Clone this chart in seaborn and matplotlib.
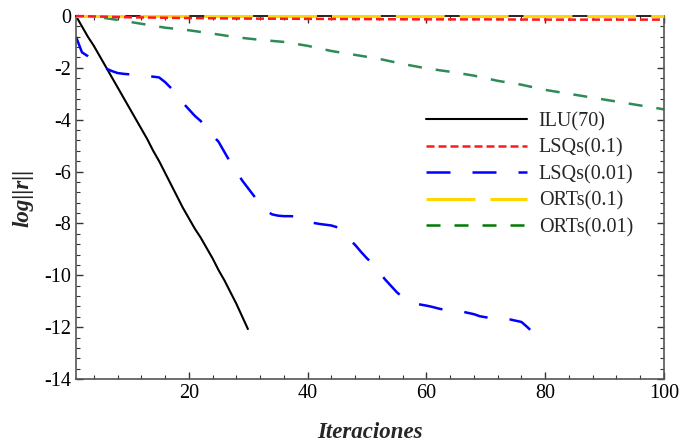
import numpy as np
import pandas as pd
import matplotlib
matplotlib.use("Agg")
import matplotlib.pyplot as plt
from matplotlib.lines import Line2D
from matplotlib.ticker import MultipleLocator
import seaborn as sns

# ---------------- data ----------------
ilu_x = list(range(1, 31))
ilu_y = [0, -0.4, -0.8, -1.15, -1.55, -1.95, -2.35, -2.75, -3.15, -3.55,
         -3.95, -4.35, -4.75, -5.2, -5.6, -6.05, -6.5, -6.95, -7.4, -7.8,
         -8.2, -8.55, -8.95, -9.35, -9.8, -10.2, -10.65, -11.1, -11.6, -12.1]

lsq01_x = [1, 10, 20, 30, 40, 50, 60, 70, 80, 90, 100]
lsq01_y = [0, -0.05, -0.08, -0.1, -0.11, -0.12, -0.13, -0.13, -0.14, -0.14, -0.14]

lsq001_x = list(range(1, 79))
lsq001_y = [-0.8, -1.4, -1.55, -1.75, -1.9, -2.02, -2.12, -2.2, -2.23, -2.25,
            -2.28, -2.3, -2.32, -2.34, -2.37, -2.55, -2.78, -3.05, -3.35, -3.6,
            -3.85, -4.05, -4.35, -4.6, -4.85, -5.25, -5.65, -6.0, -6.35, -6.65,
            -6.95, -7.25, -7.5, -7.65, -7.7, -7.72, -7.72, -7.73, -7.75, -7.85,
            -7.98, -8.02, -8.05, -8.08, -8.15, -8.35, -8.6, -8.83, -9.1, -9.35,
            -9.56, -9.85, -10.15, -10.4, -10.65, -10.85, -11.0, -11.08, -11.13, -11.17,
            -11.22, -11.28, -11.33, -11.36, -11.38, -11.4, -11.45, -11.5, -11.58, -11.62,
            -11.65, -11.66, -11.68, -11.7, -11.75, -11.8, -12.0, -12.22]

ort01_x = [1, 100]
ort01_y = [0, 0]

ort001_x = [1, 5, 8, 12, 16, 20, 24, 28, 32, 36, 40, 44, 48, 52, 56, 60,
            64, 68, 72, 76, 80, 84, 88, 92, 96, 100]
ort001_y = [0, -0.05, -0.15, -0.3, -0.45, -0.55, -0.68, -0.82, -0.92, -1.0,
            -1.15, -1.35, -1.5, -1.65, -1.85, -2.02, -2.15, -2.3, -2.5, -2.65,
            -2.85, -3.0, -3.15, -3.3, -3.45, -3.6]

labels = ["ILU(70)", "LSQs(0.1)", "LSQs(0.01)", "ORTs(0.1)", "ORTs(0.01)"]
x_ticks = [20, 40, 60, 80, 100]
y_ticks = [0, -2, -4, -6, -8, -10, -12, -14]

# ---------------- style ----------------
sns.set_style("ticks")
plt.rcParams["font.family"] = ["Liberation Serif", "DejaVu Serif"]
plt.rcParams["axes.unicode_minus"] = False

fig = plt.figure(figsize=(6.8, 4.44), dpi=100)
ax = fig.add_axes([76 / 680, 1 - 379 / 444, (664 - 76) / 680, (379 - 16) / 444])

series = [
    (ilu_x, ilu_y, "black", 1.5, None, True, 2),
    (lsq01_x, lsq01_y, "#ff1a1a", 1.8, (3.2, 1.6), False, 3.1),
    (lsq001_x, lsq001_y, "#0000ff", 1.8, (9.6, 8.8), True, 2),
    (ort01_x, ort01_y, "#ffd700", 2.2, (16, 4.9), False, 3),
    (ort001_x, ort001_y, "#2e8b57", 1.8, (5.6, 5.6), True, 2),
]

for (xs, ys, col, lw, dash, clip, z), lab in zip(series, labels):
    df = pd.DataFrame({"x": xs, "y": ys})
    sns.lineplot(data=df, x="x", y="y", ax=ax, color=col, linewidth=lw,
                 legend=False, clip_on=clip, zorder=z)
    line = ax.lines[-1]
    if dash is not None:
        line.set_dashes(dash)
    line.set_solid_capstyle("butt")
    line.set_dash_capstyle("butt")

ax.set_xlim(1, 100)
ax.set_ylim(-14, 0)
ax.set_xticks(x_ticks)
ax.set_yticks(y_ticks)
ax.set_yticklabels([str(v) for v in y_ticks])
ax.xaxis.set_minor_locator(MultipleLocator(4))
ax.yaxis.set_minor_locator(MultipleLocator(0.4))
ax.tick_params(which="both", direction="in", top=True, right=True,
               labeltop=False, labelright=False, labelsize=14.5, colors="#333333",
               labelcolor="black")
ax.tick_params(which="major", length=5, width=1)
ax.tick_params(which="minor", length=3, width=0.8)
for s in ax.spines.values():
    s.set_color("#555555")
    s.set_linewidth(1.2)
ax.spines["top"].set_color("black")

ax.set_xlabel("Iteraciones", fontsize=16.5, fontweight="bold", fontstyle="italic",
              labelpad=14)
ax.set_ylabel("log||r||", fontsize=16.5, fontweight="bold", fontstyle="italic",
              labelpad=8)

# legend
leg_colors = ["black", "#ff1a1a", "#0000ff", "#ffd700", "#007a00"]
handles = []
for (xs, ys, col, lw, dash, clip, z), lc in zip(series, leg_colors):
    h = Line2D([0], [0], color=lc, linewidth=lw)
    if dash is not None:
        h.set_dashes(dash)
    h.set_dash_capstyle("butt")
    handles.append(h)
leg = ax.legend(handles, labels, loc="upper left",
                bbox_to_anchor=(426 / 680, 1 - 112 / 444),
                bbox_transform=fig.transFigure, frameon=False,
                fontsize=14.5, handlelength=5.0, handletextpad=0.6,
                labelspacing=0.36, borderpad=0, borderaxespad=0)

fig.savefig("out.png", dpi=100)
